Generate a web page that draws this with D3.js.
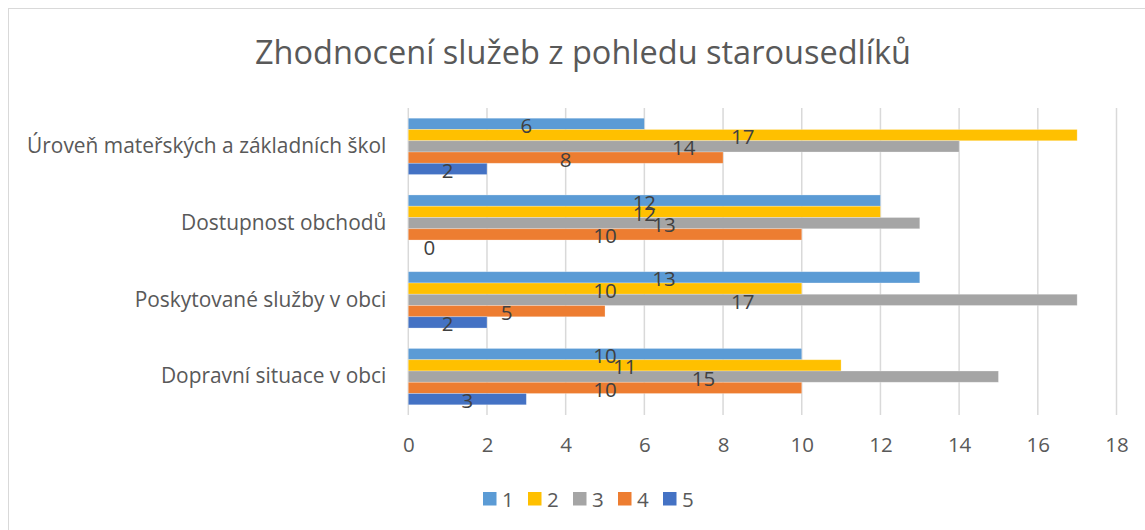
<!DOCTYPE html>
<html>
<head>
<meta charset="utf-8">
<script src="https://cdn.jsdelivr.net/npm/d3@7"></script>
<style>
  html, body { margin: 0; padding: 0; background: #fff; }
  svg { display: block; font-family: "Open Sans", "Noto Sans", sans-serif; }
</style>
</head>
<body>
<svg id="chart" width="1145" height="530"></svg>
<script>
// Categories, listed top to bottom as they appear on the vertical axis
const categories = [
  "Úroveň mateřských a základních škol",
  "Dostupnost obchodů",
  "Poskytované služby v obci",
  "Dopravní situace v obci"
];
// Rating series 1–5 (number of answers per category)
const seriesNames = ["1", "2", "3", "4", "5"];
const series1 = [6, 12, 13, 10];
const series2 = [17, 12, 10, 11];
const series3 = [14, 13, 17, 15];
const series4 = [8, 10, 5, 10];
const series5 = [2, 0, 2, 3];
const seriesValues = [series1, series2, series3, series4, series5];
const xTicks = [0, 2, 4, 6, 8, 10, 12, 14, 16, 18];
const colors = ["#5B9BD5", "#FFC000", "#A5A5A5", "#ED7D31", "#4472C4"];
const title = "Zhodnocení služeb z pohledu starousedlíků";

const svg = d3.select("#chart");
const plot = { left: 408.3, right: 1116.5, top: 108, bottom: 415 };

// Chart frame
svg.append("rect")
  .attr("x", 8.5).attr("y", 8.5)
  .attr("width", 1140).attr("height", 530)
  .attr("fill", "#fff").attr("stroke", "#D9D9D9").attr("stroke-width", 1);

// Title
svg.append("text")
  .attr("x", 583).attr("y", 64)
  .attr("text-anchor", "middle")
  .attr("fill", "#595959")
  .style("font-size", "32.5px")
  .text(title);

const x = d3.scaleLinear().domain([0, 18]).range([plot.left, plot.right]);
const y = d3.scaleBand().domain(categories)
  .range([plot.top, plot.bottom])
  .paddingInner(0.266).paddingOuter(0.133);
const ySub = d3.scaleBand().domain(seriesNames).range([0, y.bandwidth()]);

// Vertical gridlines
svg.append("g")
  .selectAll("line")
  .data(xTicks)
  .join("line")
  .attr("x1", d => x(d)).attr("x2", d => x(d))
  .attr("y1", plot.top).attr("y2", plot.bottom)
  .attr("stroke", "#D9D9D9").attr("stroke-width", 1.5);

// Value axis labels
const xAxis = d3.axisBottom(x).tickValues(xTicks).tickSize(0).tickPadding(0);
const gx = svg.append("g")
  .attr("transform", `translate(0,${plot.bottom + 22})`)
  .call(xAxis);
gx.select(".domain").remove();
gx.selectAll("text")
  .attr("fill", "#595959")
  .style("font-size", "20.5px")
  .style("font-family", "\"Open Sans\", sans-serif");

// Category axis labels
const yAxis = d3.axisLeft(y).tickSize(0).tickPadding(22);
const gy = svg.append("g")
  .attr("transform", `translate(${plot.left},0)`)
  .call(yAxis);
gy.select(".domain").remove();
gy.selectAll("text")
  .attr("fill", "#595959")
  .style("font-size", "20.9px")
  .style("font-family", "\"Open Sans\", sans-serif");

// Bars
const rows = [];
categories.forEach((c, ci) => {
  seriesNames.forEach((s, si) => {
    rows.push({ cat: c, ser: s, si, value: seriesValues[si][ci] });
  });
});

svg.append("g")
  .selectAll("rect")
  .data(rows)
  .join("rect")
  .attr("x", x(0))
  .attr("y", d => y(d.cat) + ySub(d.ser))
  .attr("width", d => x(d.value) - x(0))
  .attr("height", ySub.bandwidth())
  .attr("fill", d => colors[d.si])
  .attr("stroke", "#fff").attr("stroke-opacity", 0.35).attr("stroke-width", 0.75);

// Data labels, centred on each bar; an empty bar keeps its label beside the axis
const zeroLabelShift = 21;
svg.append("g")
  .selectAll("text")
  .data(rows)
  .join("text")
  .attr("x", d => d.value === 0 ? x(0) + zeroLabelShift : x(d.value / 2))
  .attr("y", d => y(d.cat) + ySub(d.ser) + ySub.bandwidth() / 2 + 1)
  .attr("text-anchor", "middle")
  .attr("dominant-baseline", "central")
  .attr("fill", "#404040")
  .style("font-size", "20.5px")
  .text(d => d.value);

// Legend
const legend = svg.append("g").attr("transform", "translate(483,492)");
const item = legend.selectAll("g")
  .data(seriesNames)
  .join("g")
  .attr("transform", (d, i) => `translate(${i * 45},0)`);
item.append("rect")
  .attr("width", 13.5).attr("height", 13.5)
  .attr("fill", (d, i) => colors[i]);
item.append("text")
  .attr("x", 19).attr("y", 7)
  .attr("dominant-baseline", "central")
  .attr("fill", "#595959")
  .style("font-size", "20.5px")
  .text(d => d);
</script>
</body>
</html>
